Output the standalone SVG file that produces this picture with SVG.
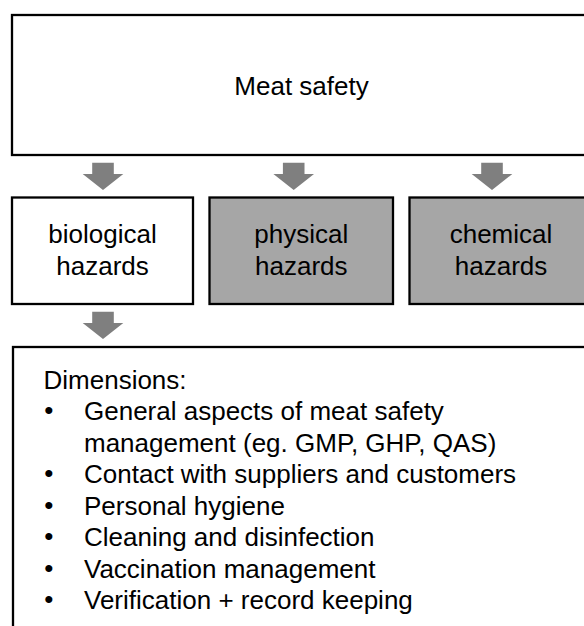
<svg xmlns="http://www.w3.org/2000/svg" width="584" height="626" viewBox="0 0 584 626">
  <defs>
    <style>
      .box { stroke: #000; stroke-width: 2.3; }
      .white { fill: #fff; }
      .grey { fill: #a6a6a6; }
      .arrow { fill: #7f7f7f; }
      text { font-family: "Liberation Sans", Arial, sans-serif; font-size: 26px; fill: #000; }
      .c { text-anchor: middle; }
      .bullet { font-size: 21px; }
    </style>
    <!-- block arrow pointing down, origin at top centre -->
    <path id="downArrow" d="M -10.8 0 H 10.8 V 11.3 H 20.3 L 0 27.3 L -20.3 11.3 H -10.8 Z"/>
  </defs>

  <rect width="584" height="626" fill="#fff"/>

  <g id="meat-safety">
    <rect class="box white" x="12" y="15" width="580" height="140"/>
    <text class="c" x="301.5" y="95">Meat safety</text>
  </g>

  <g id="biological-hazards">
    <rect class="box white" x="12" y="197.5" width="181" height="106.5"/>
    <text class="c" x="102.5" y="243">biological</text>
    <text class="c" x="102.5" y="275">hazards</text>
  </g>

  <g id="physical-hazards">
    <rect class="box grey" x="209.5" y="197.5" width="183.5" height="106.5"/>
    <text class="c" x="301.3" y="243">physical</text>
    <text class="c" x="301.3" y="275">hazards</text>
  </g>

  <g id="chemical-hazards">
    <rect class="box grey" x="409.5" y="197.5" width="183.5" height="106.5"/>
    <text class="c" x="501" y="243">chemical</text>
    <text class="c" x="501" y="275">hazards</text>
  </g>

  <g id="dimensions">
    <rect class="box white" x="13" y="347" width="580" height="290"/>
    <text x="43.5" y="388.5">Dimensions:</text>
    <g class="bullet">
      <text x="44.3" y="419">•</text>
      <text x="44.3" y="482">•</text>
      <text x="44.3" y="513.5">•</text>
      <text x="44.3" y="545">•</text>
      <text x="44.3" y="576.5">•</text>
      <text x="44.3" y="608">•</text>
    </g>
    <g>
      <text x="84" y="420">General aspects of meat safety</text>
      <text x="84" y="451.5">management (eg. GMP, GHP, QAS)</text>
      <text x="84" y="483">Contact with suppliers and customers</text>
      <text x="84" y="514.5">Personal hygiene</text>
      <text x="84" y="546">Cleaning and disinfection</text>
      <text x="84" y="577.5">Vaccination management</text>
      <text x="84" y="609">Verification + record keeping</text>
    </g>
  </g>

  <g id="connectors" class="arrow">
    <use href="#downArrow" x="103" y="162.7"/>
    <use href="#downArrow" x="293.7" y="162.7"/>
    <use href="#downArrow" x="492" y="162.7"/>
    <use href="#downArrow" x="103" y="311.7"/>
  </g>
</svg>
